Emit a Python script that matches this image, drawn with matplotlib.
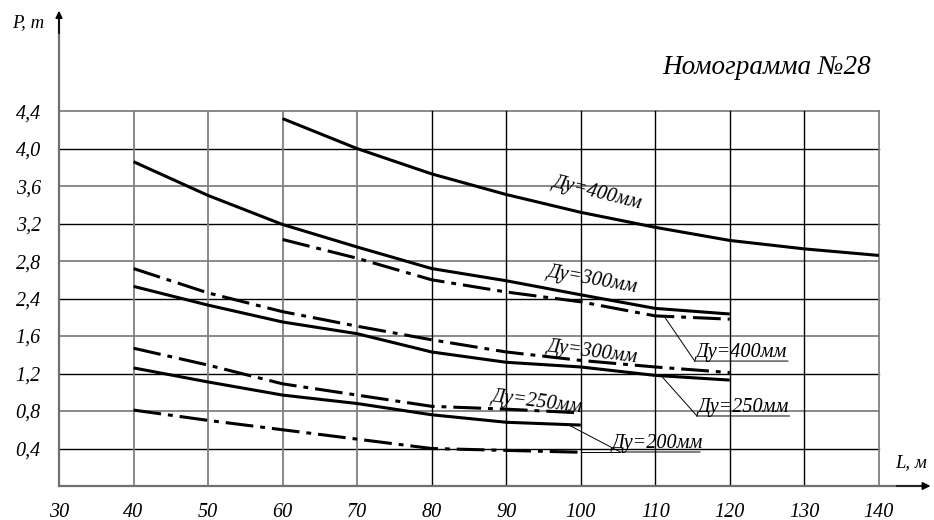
import numpy as np
import matplotlib
matplotlib.use("Agg")
import matplotlib.pyplot as plt

plt.rcParams['font.family'] = ['Liberation Serif', 'DejaVu Serif']
plt.rcParams['font.style'] = 'italic'
plt.rcParams['lines.scale_dashes'] = False

# axis labels as printed on the nomogram (note: grid rows are even, labels are not)
x_ticks = [30, 40, 50, 60, 70, 80, 90, 100, 110, 120, 130, 140]
y_ticks = [0.4, 0.8, 1.2, 1.6, 2.4, 2.8, 3.2, 3.6, 4.0, 4.4]
y_labels = ["0,4", "0,8", "1,2", "1,6", "2,4", "2,8", "3,2", "3,6", "4,0", "4,4"]

# curves, P (t) vs L (m)
L_400 = [60, 70, 80, 90, 100, 110, 120, 130, 140]
P_400 = [4.32, 4.00, 3.73, 3.51, 3.32, 3.16, 3.02, 2.93, 2.86]

L_300 = [40, 50, 60, 70, 80, 90, 100, 110, 120]
P_300 = [3.86, 3.50, 3.19, 2.95, 2.72, 2.59, 2.44, 2.19, 2.07]

L_400d = [60, 70, 80, 90, 100, 110, 120]
P_400d = [3.03, 2.83, 2.60, 2.47, 2.33, 2.03, 1.96]

L_300d = [40, 50, 60, 70, 80, 90, 100, 110, 120]
P_300d = [2.72, 2.46, 2.12, 1.81, 1.56, 1.43, 1.34, 1.27, 1.21]

L_250 = [40, 50, 60, 70, 80, 90, 100, 110, 120]
P_250 = [2.53, 2.26, 1.90, 1.65, 1.43, 1.32, 1.27, 1.18, 1.13]

L_250d = [40, 50, 60, 70, 80, 90, 100]
P_250d = [1.47, 1.29, 1.09, 0.97, 0.85, 0.82, 0.78]

L_200 = [40, 50, 60, 70, 80, 90, 100]
P_200 = [1.26, 1.11, 0.97, 0.88, 0.76, 0.68, 0.65]

L_200d = [40, 50, 60, 70, 80, 90, 100]
P_200d = [0.81, 0.70, 0.60, 0.50, 0.40, 0.38, 0.36]

# piecewise scale: each printed label sits on its own grid row
p_knots = [0.0] + y_ticks + [8.4]
r_knots = list(range(len(y_ticks) + 1)) + [20]

def fwd(p):
    return np.interp(p, p_knots, r_knots)

def inv(r):
    return np.interp(r, r_knots, p_knots)


fig = plt.figure(figsize=(9.34, 5.2), dpi=100)
ax = fig.add_axes([59/934, 1-486/520, 872/934, 478/520])
ax.set_yscale('function', functions=(fwd, inv))
ax.set_xlim(30, 147)
ax.set_ylim(0, 5.5)
for s in ax.spines.values():
    s.set_visible(False)

# grid, alternating grey / black like the scan
for i, y in enumerate([0.0] + y_ticks):
    c = '#808080' if i % 2 == 0 else 'black'
    ax.plot([30, 140], [y, y], color=c, lw=1.3 if c != 'black' else 1.0, zorder=1)
for x in x_ticks[1:]:
    c = '#808080' if (x <= 70 or x == 140) else 'black'
    ax.plot([x, x], [0, 4.4], color=c, lw=1.3 if c != 'black' else 1.0, zorder=1)

# axes with arrows
ax.plot([30, 30], [0, 5.45], color='#707070', lw=1.6, clip_on=False, zorder=2)
ax.plot([30, 146], [0, 0], color='#707070', lw=1.6, clip_on=False, zorder=2)
ax.annotate('', xy=(30, 5.5), xytext=(30, 5.2),
            arrowprops=dict(arrowstyle='-|>', color='black', lw=1.2, mutation_scale=10),
            annotation_clip=False)
ax.annotate('', xy=(147.3, 0), xytext=(142, 0),
            arrowprops=dict(arrowstyle='-|>', color='black', lw=1.0, mutation_scale=12),
            annotation_clip=False)

ax.set_xticks(x_ticks)
ax.set_xticklabels([str(v) for v in x_ticks])
ax.set_yticks(y_ticks)
ax.set_yticklabels(y_labels)
ax.tick_params(length=0, labelsize=14.5)
ax.tick_params(axis='y', pad=13)
ax.tick_params(axis='x', pad=12)

solid = dict(color='black', lw=2.2, solid_capstyle='butt', zorder=3)
dashdot = dict(color='black', lw=2.2, linestyle=(0, (20, 5, 3.5, 5)), dash_capstyle='butt', zorder=3)

ax.plot(L_400, P_400, **solid)
ax.plot(L_300, P_300, **solid)
ax.plot(L_400d, P_400d, **dashdot)
ax.plot(L_300d, P_300d, **dashdot)
ax.plot(L_250, P_250, **solid)
ax.plot(L_250d, P_250d, **dashdot)
ax.plot(L_200, P_200, **solid)
ax.plot(L_200d, P_200d, **dashdot)

# inline labels
lab = dict(fontsize=14.5, ha='center', va='center', rotation_mode='anchor', zorder=4)
ax.text(102.2, 3.53, 'Ду=400мм', rotation=-14, **lab)
ax.text(101.6, 2.60, 'Ду=300мм', rotation=-10, **lab)
ax.text(101.5, 1.43, 'Ду=300мм', rotation=-7, **lab)
ax.text(94.1, 0.90, 'Ду=250мм', rotation=-7, **lab)

# leader labels
def leader(curve_L, curve_P, x0, x1, y1, x2, text, x_text):
    y0 = np.interp(x0, curve_L, curve_P)
    ax.plot([x0, x1, x2], [y0, y1, y1], color='black', lw=0.7, zorder=4)
    ax.annotate(text, xy=(x_text, y1), xytext=(0, 3), textcoords='offset points',
                ha='center', va='baseline', fontsize=14.5)

leader(L_400d, P_400d, 111.2, 115.3, 1.333, 127.8, 'Ду=400мм', 121.6)
leader(L_250, P_250, 110.8, 115.6, 0.747, 128.0, 'Ду=250мм', 121.8)
leader(L_200, P_200, 98.3, 105.3, 0.363, 116.0, 'Ду=200мм', 110.3)
ax.plot([100, 105.3], [0.363, 0.363], color='black', lw=0.7, zorder=4)

fig.text(28/934, 1-23/520, 'P, т', fontsize=13.5, ha='center', va='center')
fig.text(911/934, 1-463/520, 'L, м', fontsize=13.5, ha='center', va='center')
fig.text(767/934, 1-67/520, 'Номограмма №28', fontsize=19.5, ha='center', va='center')

fig.savefig('out.png', dpi=100)
